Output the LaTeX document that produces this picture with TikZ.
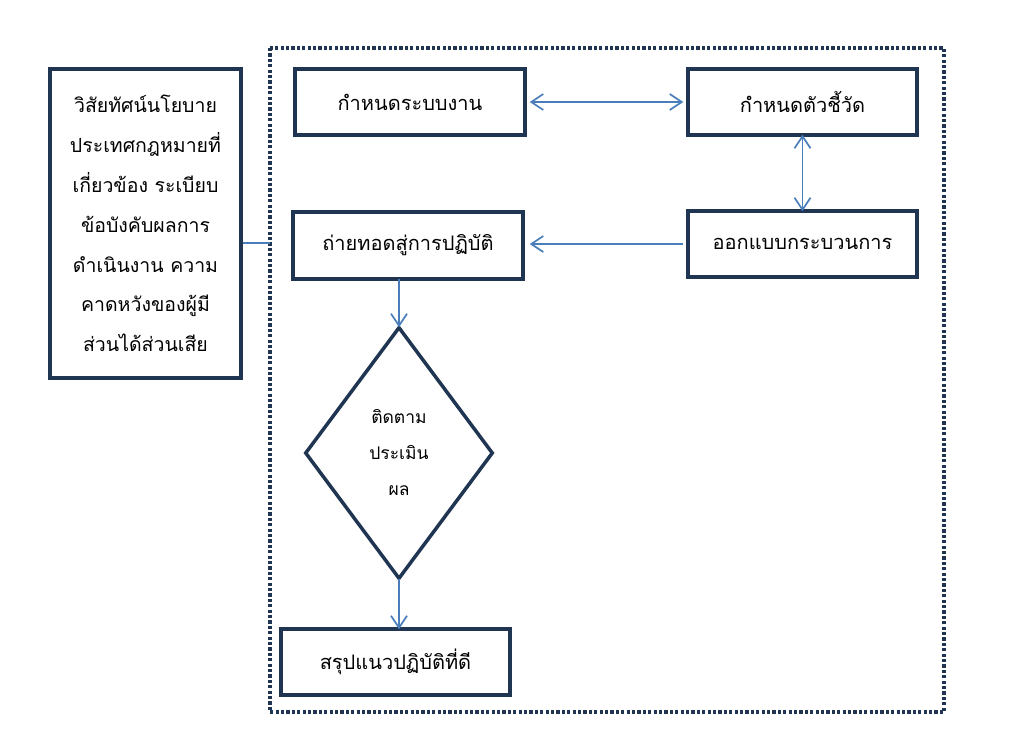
\documentclass[tikz,border=0pt]{standalone}
\usepackage{fontspec}
\newfontfamily\thaifont[Script=Thai]{Loma}
\usetikzlibrary{arrows.meta,shapes.geometric}
\definecolor{navy}{HTML}{1F3552}
\definecolor{linkblue}{HTML}{4A7EBB}
\tikzset{
  stepbox/.style={draw=navy, line width=3.5pt, rectangle, minimum width=230pt, minimum height=66pt, inner sep=0pt, font=\thaifont\fontsize{20}{24}\selectfont, text=black},
  link/.style={draw=linkblue, line width=1.7pt, arrows={-Straight Barb[length=12pt,width=16pt]}},
  dlink/.style={draw=linkblue, line width=1.7pt, arrows={Straight Barb[length=12pt,width=16pt]-Straight Barb[length=12pt,width=16pt]}},
}
\begin{document}
\begin{tikzpicture}[x=1pt,y=-1pt]
\useasboundingbox (0,0) rectangle (1013,739);
% dotted frame
\draw[navy, line width=3.2pt, dash pattern=on 3.2pt off 2.2pt] (270,48) rectangle (944,712);
% boxes
\node[stepbox] (sys) at (410,102) {กำหนดระบบงาน};
\node[stepbox, minimum width=229pt] (kpi) at (802.5,102) {กำหนดตัวชี้วัด};
\node[stepbox, minimum width=229pt] (design) at (802.5,244) {ออกแบบกระบวนการ};
\node[stepbox, minimum height=67pt] (deploy) at (408,245.5) {ถ่ายทอดสู่การปฏิบัติ};
\node[stepbox, minimum width=229pt] (summ) at (395.5,662) {สรุปแนวปฏิบัติที่ดี};
\node[draw=navy, line width=3.5pt, diamond, minimum width=188pt, minimum height=252pt, inner sep=0pt, align=center, font=\thaifont\fontsize{17.5}{36}\selectfont] (eval) at (399,453) {ติดตาม\\ประเมิน\\ผล};
\node[draw=navy, line width=3.5pt, rectangle, minimum width=191pt, minimum height=309pt, inner sep=0pt, align=center, font=\thaifont\fontsize{19.5}{39.8}\selectfont] (ctx) at (145.5,223.5) {วิสัยทัศน์นโยบาย\\ประเทศกฎหมายที่\\เกี่ยวข้อง ระเบียบ\\ข้อบังคับผลการ\\ดำเนินงาน ความ\\คาดหวังของผู้มี\\ส่วนได้ส่วนเสีย};
\coordinate (frameL) at (270,243);
% connectors
\draw[linkblue, line width=1.7pt] (ctx.east |- frameL) -- (frameL);
\draw[dlink] ([xshift=3pt]sys.east) -- ([xshift=-3pt]kpi.west);
\draw[dlink] ([yshift=2pt]kpi.south) -- ([yshift=-2pt]design.north);
\draw[link] ([xshift=-3pt]design.west) -- ([xshift=5pt]deploy.east |- design.west);
\draw[link] ([yshift=2pt]deploy.south -| eval.north) -- ([yshift=-2pt]eval.north);
\draw[link] ([yshift=2pt]eval.south) -- ([yshift=-2pt]summ.north -| eval.south);
\end{tikzpicture}
\end{document}
